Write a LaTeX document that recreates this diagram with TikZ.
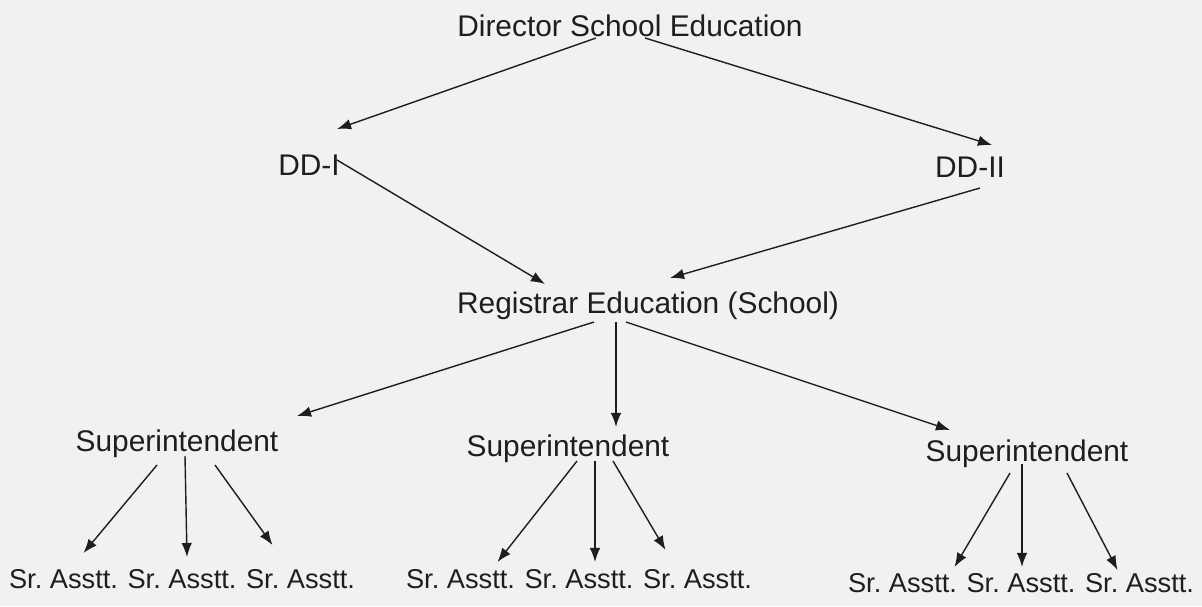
\documentclass[tikz,border=0pt]{standalone}
\usepackage{fontspec}
\setmainfont{Liberation Sans}
\usetikzlibrary{arrows.meta}
\definecolor{ink}{HTML}{1E1E1E}
\definecolor{paper}{HTML}{F1F1EF}
\frenchspacing
\tikzset{
  post/.style={font=\fontsize{17}{20}\selectfont, text=ink, inner sep=0pt, anchor=base},
  asst/.style={font=\fontsize{15.5}{18}\selectfont, text=ink, inner sep=0pt, anchor=base},
  link/.style={->, draw=ink, line width=.8pt}
}
\begin{document}
\begin{tikzpicture}[x=0.02cm, y=-0.02cm, >={Latex[length=8pt,width=6pt]}]
\fill[paper] (0,0) rectangle (1202,606);
\useasboundingbox (0,0) rectangle (1202,606);
% levels
\node[post] (dir) at (630,36) {Director School Education};
\node[post] (ddi) at (309,175) {DD-I};
\node[post] (ddii) at (970,177) {DD-II};
\node[post] (reg) at (648,313) {Registrar Education (School)};
\node[post] (supa) at (177,451) {Superintendent};
\node[post] (supb) at (568,456) {Superintendent};
\node[post] (supc) at (1027,461) {Superintendent};
\node[asst] (sra1) at (63.5,588) {Sr. Asstt.};
\node[asst] (sra2) at (182,588) {Sr. Asstt.};
\node[asst] (sra3) at (300.5,588) {Sr. Asstt.};
\node[asst] (srb1) at (460.5,588) {Sr. Asstt.};
\node[asst] (srb2) at (579,588) {Sr. Asstt.};
\node[asst] (srb3) at (697.5,588) {Sr. Asstt.};
\node[asst] (src1) at (902.5,592) {Sr. Asstt.};
\node[asst] (src2) at (1021,592) {Sr. Asstt.};
\node[asst] (src3) at (1139.5,592) {Sr. Asstt.};
% arrows
\draw[link] ([shift={(-34,2)}]dir.base) -- ([shift={(28,-46)}]ddi.base);
\draw[link] ([shift={(15,2)}]dir.base) -- ([shift={(22,-32)}]ddii.base);
\draw[link] ([shift={(28,-15)}]ddi.base) -- ([shift={(-103,-29)}]reg.base);
\draw[link] ([shift={(10,11)}]ddii.base) -- ([shift={(22,-35)}]reg.base);
\draw[link] ([shift={(-54,9)}]reg.base) -- ([shift={(120,-35)}]supa.base);
\draw[link] ([shift={(-32,9)}]reg.base) -- ([shift={(48,-29)}]supb.base);
\draw[link] ([shift={(-22,9)}]reg.base) -- ([shift={(-77,-31)}]supc.base);
\draw[link] ([shift={(-20,14)}]supa.base) -- ([shift={(20,-35)}]sra1.base);
\draw[link] ([shift={(8,5)}]supa.base) -- ([shift={(5,-31)}]sra2.base);
\draw[link] ([shift={(38,14)}]supa.base) -- ([shift={(-28,-43)}]sra3.base);
\draw[link] ([shift={(9,5)}]supb.base) -- ([shift={(37,-26)}]srb1.base);
\draw[link] ([shift={(27,5)}]supb.base) -- ([shift={(16,-26)}]srb2.base);
\draw[link] ([shift={(45,5)}]supb.base) -- ([shift={(-32,-38)}]srb3.base);
\draw[link] ([shift={(-17,12)}]supc.base) -- ([shift={(52,-25)}]src1.base);
\draw[link] ([shift={(-5,3)}]supc.base) -- ([shift={(1,-25)}]src2.base);
\draw[link] ([shift={(40,12)}]supc.base) -- ([shift={(-22,-22)}]src3.base);
\end{tikzpicture}
\end{document}
